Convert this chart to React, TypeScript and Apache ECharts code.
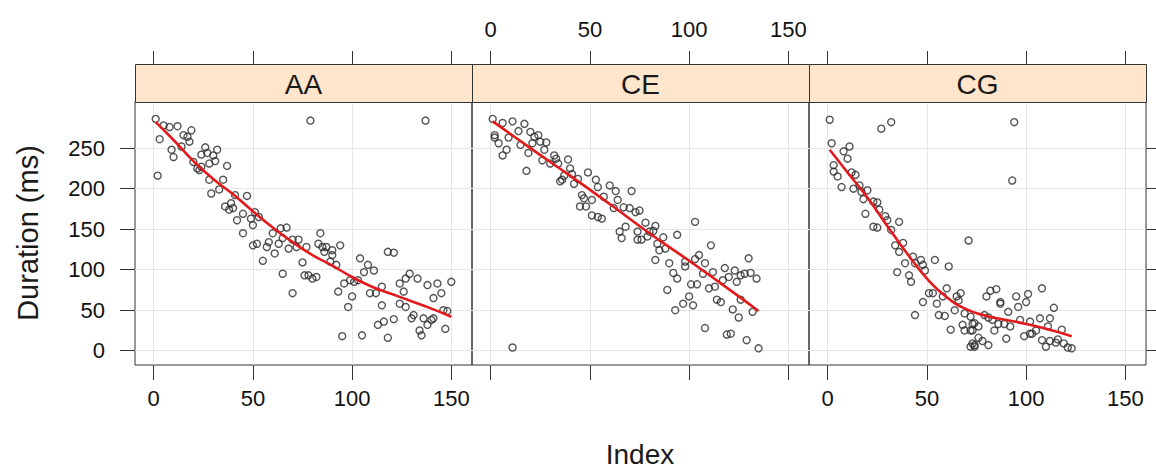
import React, { useEffect, useRef } from "react";
import * as echarts from "echarts";

// ---- data ----
const panelNames = ["AA", "CE", "CG"];
const xTickValues = [0, 50, 100, 150];
const yTickValues = [0, 50, 100, 150, 200, 250];
const xRange = [-9.43, 160.43];
const yRange = [-17.6, 306.9];

const aaIndex = [1, 3, 2, 5, 8, 12, 9, 10, 14, 15, 17, 19, 18, 24, 26, 27, 30, 32, 31, 28, 20, 22, 23, 24, 37, 28, 29, 35, 33, 36, 39, 40, 38, 42, 41, 47, 45, 49, 51, 53, 50, 45, 50, 52, 57, 55, 58, 60, 61, 63, 64, 67, 65, 68, 70, 72, 73, 75, 65, 70, 76,
  79, 137, 77, 78, 80, 82, 84, 83, 85, 87, 86, 90, 90, 89, 92, 94, 93, 96, 98, 100, 99, 101, 104, 103, 106, 108, 109, 111, 112, 115, 115, 118, 121, 116, 113, 121, 118, 95, 105, 124, 124, 126, 127, 127, 129, 133, 130, 131, 136, 134, 135, 138, 140, 141, 138, 143, 141, 145, 146, 148, 147, 150];
const aaDuration = [286, 261, 216, 278, 276, 277, 248, 239, 252, 266, 264, 272, 258, 242, 251, 244, 241, 248, 234, 231, 233, 225, 223, 227, 228, 211, 194, 211, 199, 178, 182, 176, 174, 161, 192, 191, 169, 163, 171, 165, 155, 145, 130, 132, 128, 111, 134, 145, 120, 132, 151, 152, 139, 126, 137, 128, 137, 109, 95, 71, 93,
  284, 284, 128, 93, 89, 91, 145, 132, 128, 128, 122, 124, 118, 110, 106, 130, 73, 83, 54, 67, 87, 85, 114, 87, 97, 106, 71, 99, 71, 79, 56, 122, 121, 36, 32, 39, 16, 18, 19, 58, 83, 73, 54, 89, 95, 89, 40, 44, 40, 25, 19, 32, 38, 40, 81, 83, 65, 71, 50, 49, 27, 85];

const ceIndex = [1, 2, 4, 2, 6, 8, 6, 11, 17, 14, 9, 15, 18, 19, 20, 22, 24, 25, 28, 21, 26, 30, 27, 32, 33, 34, 39, 40, 35, 36, 37, 41, 42, 44, 46, 47, 45, 48, 49, 51, 51, 54, 56, 53, 54, 57, 60, 63, 64, 62, 67, 71, 70, 68, 65, 66, 73, 74, 11,
  75, 74, 76, 78, 80, 82, 83, 79, 84, 87, 85, 83, 88, 90, 92, 94, 94, 98, 98, 103, 103, 105, 107, 108, 111, 112, 101, 104, 113, 110, 89, 100, 97, 102, 93, 114, 116, 117, 118, 120, 123, 124, 126, 128, 130, 131, 134, 122, 126, 125, 132, 108, 119, 121, 129, 135];
const ceDuration = [286, 266, 256, 263, 241, 248, 281, 283, 280, 271, 263, 254, 222, 244, 270, 264, 266, 258, 257, 256, 235, 231, 248, 241, 237, 231, 236, 225, 209, 211, 216, 218, 206, 212, 192, 188, 178, 178, 220, 186, 167, 165, 163, 211, 202, 190, 204, 197, 186, 176, 177, 197, 176, 153, 147, 139, 171, 137, 4,
  173, 147, 137, 158, 147, 148, 154, 141, 132, 140, 124, 112, 126, 108, 96, 89, 143, 110, 104, 159, 113, 118, 95, 108, 130, 97, 82, 82, 79, 77, 75, 67, 58, 56, 50, 63, 60, 87, 102, 91, 99, 85, 93, 95, 114, 96, 89, 51, 63, 41, 48, 28, 20, 21, 13, 3];

const cgIndex = [1, 2, 27, 32, 11, 8, 10, 3, 3, 5, 7, 12, 14, 13, 16, 17, 18, 20, 23, 25, 19, 23, 25, 26, 29, 30, 32, 36, 34, 38, 36, 39, 43, 44, 47, 48, 49, 54, 35, 41, 42, 61, 71, 48, 51, 53, 55, 44, 56, 59, 58, 60, 64, 65, 66, 67, 69, 62, 68, 69, 72, 73, 72, 74,
  94, 93, 80, 82, 85, 87, 87, 91, 95, 96, 100, 101, 108, 114, 72, 74, 76, 73, 79, 81, 83, 86, 84, 89, 92, 97, 99, 90, 102, 103, 107, 112, 111, 108, 110, 112, 115, 116, 118, 119, 121, 123, 76, 78, 81, 74, 73, 105, 102];
const cgDuration = [285, 256, 274, 282, 252, 246, 237, 229, 221, 215, 202, 220, 217, 200, 204, 196, 187, 198, 184, 183, 169, 153, 152, 174, 166, 161, 149, 159, 130, 133, 122, 108, 116, 108, 112, 106, 99, 112, 97, 93, 85, 104, 136, 60, 71, 71, 58, 44, 44, 43, 67, 77, 50, 67, 62, 71, 46, 26, 32, 25, 25, 33, 5, 7,
  282, 210, 67, 74, 76, 60, 58, 48, 67, 54, 60, 70, 77, 53, 42, 34, 30, 25, 44, 41, 38, 33, 25, 33, 30, 38, 18, 15, 36, 21, 40, 40, 30, 13, 5, 12, 10, 14, 26, 9, 4, 3, 16, 12, 7, 5, 9, 25, 21];

const aaFitIndex = [1, 10, 20, 30, 40, 50, 60, 70, 80, 90, 100, 110, 120, 130, 140, 150];
const aaFitDuration = [282, 260, 234, 212, 193, 172, 152, 134, 118, 105, 91, 79, 70, 61, 52, 42];
const ceFitIndex = [1, 20, 40, 60, 80, 100, 120, 135];
const ceFitDuration = [283, 250, 216, 181, 145, 111, 76, 49];
const cgFitIndex = [1, 10, 20, 30, 40, 50, 60, 70, 80, 90, 100, 110, 123];
const cgFitDuration = [248, 220, 189, 154, 120, 89, 66, 51, 43, 38, 33, 27, 18];

const pointSets = [
  [aaIndex, aaDuration],
  [ceIndex, ceDuration],
  [cgIndex, cgDuration],
];
const fitSets = [
  [aaFitIndex, aaFitDuration],
  [ceFitIndex, ceFitDuration],
  [cgFitIndex, cgFitDuration],
];

// ---- layout ----
const PANEL_LEFT = [135, 472, 809];
const PANEL_W = 337;
const PLOT_TOP = 102;
const PLOT_H = 263;
const STRIP_H = 38;
const FONT = "'Liberation Sans', Arial, Helvetica, sans-serif";

const zip = (a: number[], b: number[]) => a.map((v, i) => [v, b[i]]);

export default function App() {
  const ref = useRef<HTMLDivElement>(null);
  useEffect(() => {
    if (!ref.current) return;
    const chart = echarts.init(ref.current, null, { renderer: "svg" });

    const grids = PANEL_LEFT.map((left) => ({
      left,
      top: PLOT_TOP,
      width: PANEL_W,
      height: PLOT_H,
      show: true,
      borderColor: "#333",
      borderWidth: 1,
      backgroundColor: "transparent",
    }));

    const tickLine = { color: "#333", width: 1 };
    const noLine = { show: false, onZero: false };
    const xAxes: any[] = [];
    const yAxes: any[] = [];
    panelNames.forEach((_, i) => {
      xAxes.push({
        type: "value",
        gridIndex: i,
        position: "bottom",
        min: xRange[0],
        max: xRange[1],
        axisLine: noLine,
        axisTick: { show: true, inside: false, length: 15, customValues: xTickValues, lineStyle: tickLine },
        axisLabel: {
          show: i !== 1,
          customValues: xTickValues,
          margin: 22,
          fontSize: 22,
          color: "#111",
          fontFamily: FONT,
        },
        splitLine: { show: true, lineStyle: { color: "#e6e6e6", width: 1 } },
      });
    });
    panelNames.forEach((_, i) => {
      xAxes.push({
        type: "value",
        gridIndex: i,
        position: "top",
        offset: STRIP_H,
        min: xRange[0],
        max: xRange[1],
        axisLine: noLine,
        axisTick: { show: true, inside: false, length: 13, customValues: xTickValues, lineStyle: tickLine },
        axisLabel: {
          show: i === 1,
          customValues: xTickValues,
          margin: 24,
          fontSize: 22,
          color: "#111",
          fontFamily: FONT,
        },
        splitLine: { show: false },
      });
    });
    panelNames.forEach((_, i) => {
      yAxes.push({
        type: "value",
        gridIndex: i,
        position: "left",
        min: yRange[0],
        max: yRange[1],
        axisLine: noLine,
        axisTick: { show: i === 0, inside: false, length: 15, customValues: yTickValues, lineStyle: tickLine },
        axisLabel: {
          show: i === 0,
          customValues: yTickValues,
          margin: 30,
          fontSize: 22,
          color: "#111",
          fontFamily: FONT,
        },
        splitLine: { show: true, lineStyle: { color: "#e6e6e6", width: 1 } },
      });
    });
    panelNames.forEach((_, i) => {
      yAxes.push({
        type: "value",
        gridIndex: i,
        position: "right",
        min: yRange[0],
        max: yRange[1],
        axisLine: noLine,
        axisTick: { show: i === 2, inside: false, length: 11, customValues: yTickValues, lineStyle: tickLine },
        axisLabel: { show: false },
        splitLine: { show: false },
      });
    });

    const series: any[] = [];
    pointSets.forEach(([xs, ys], i) => {
      series.push({
        type: "scatter",
        xAxisIndex: i,
        yAxisIndex: i,
        data: zip(xs, ys),
        symbol: "circle",
        symbolSize: 7,
        itemStyle: { color: "transparent", borderColor: "#2a2a2a", borderWidth: 1.4 },
        silent: true,
        z: 3,
      });
    });
    fitSets.forEach(([xs, ys], i) => {
      series.push({
        type: "line",
        xAxisIndex: i,
        yAxisIndex: i,
        data: zip(xs, ys),
        smooth: true,
        showSymbol: false,
        lineStyle: { color: "#e3191c", width: 2.6 },
        silent: true,
        z: 4,
      });
    });

    const graphics: any[] = [];
    PANEL_LEFT.forEach((left, i) => {
      graphics.push({
        type: "rect",
        shape: { x: left + 0.5, y: PLOT_TOP - STRIP_H + 0.5, width: PANEL_W, height: STRIP_H },
        style: { fill: "#ffe5cc", stroke: "#333", lineWidth: 1 },
        z: 10,
      });
      graphics.push({
        type: "text",
        x: left + PANEL_W / 2,
        y: PLOT_TOP - STRIP_H / 2 + 1,
        style: {
          text: panelNames[i],
          fill: "#1a1a1a",
          font: `28px ${FONT}`,
          align: "center",
          verticalAlign: "middle",
        },
        z: 11,
      });
    });
    graphics.push({
      type: "text",
      x: 640,
      y: 454,
      style: { text: "Index", fill: "#1a1a1a", font: `28px ${FONT}`, align: "center", verticalAlign: "middle" },
    });
    graphics.push({
      type: "text",
      x: 28,
      y: 233,
      rotation: Math.PI / 2,
      style: { text: "Duration (ms)", fill: "#1a1a1a", font: `29px ${FONT}`, align: "center", verticalAlign: "middle" },
    });

    chart.setOption({
      animation: false,
      backgroundColor: "#ffffff",
      textStyle: { fontFamily: FONT },
      grid: grids,
      xAxis: xAxes,
      yAxis: yAxes,
      series,
      graphic: graphics,
    });
    return () => chart.dispose();
  }, []);

  return (
    <div
      ref={ref}
      style={{ position: "fixed", left: 0, top: 0, width: 1156, height: 471, background: "#fff" }}
    />
  );
}
